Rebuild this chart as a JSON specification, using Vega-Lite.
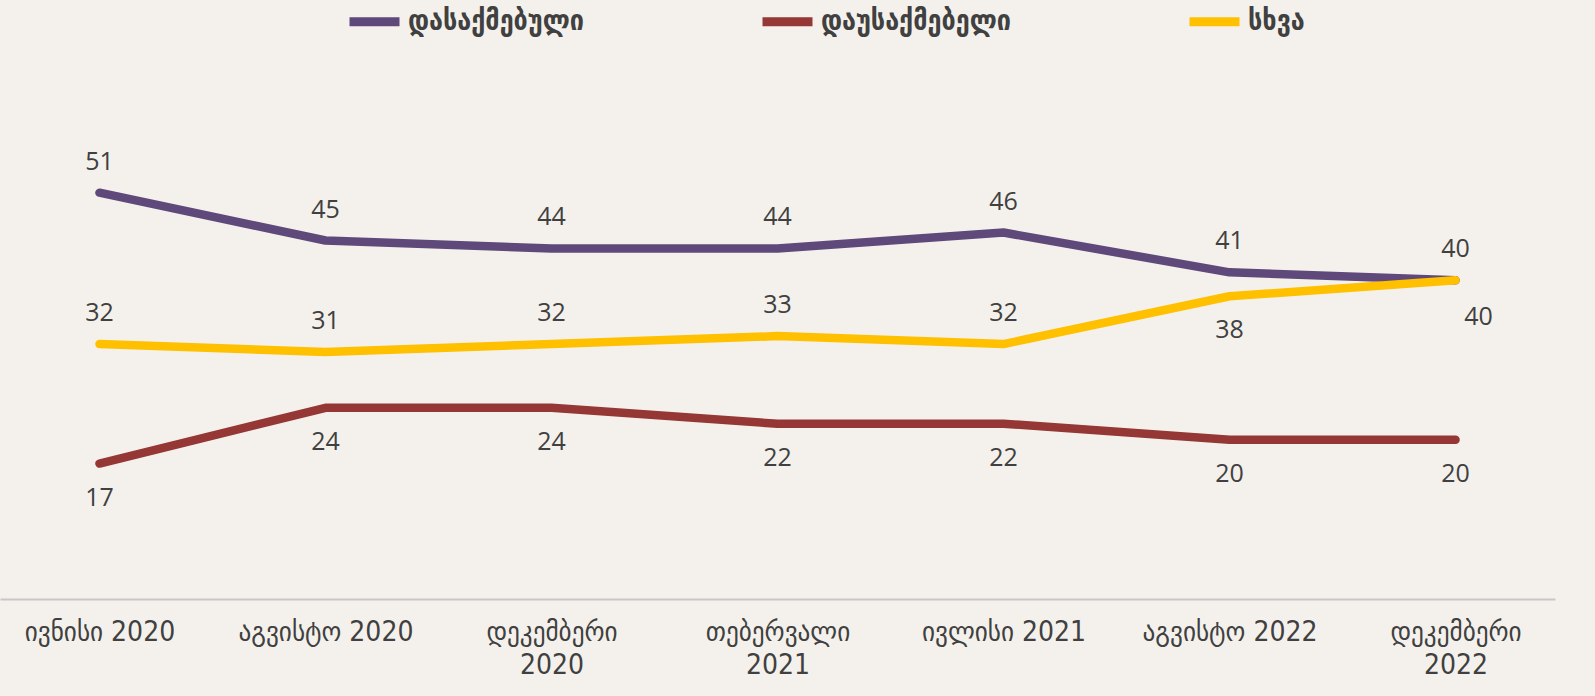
{
  "$schema": "https://vega.github.io/schema/vega-lite/v6.json",
  "autosize": {"type": "none"},
  "width": 1555,
  "height": 478,
  "padding": {"top": 121, "left": 0, "right": 40, "bottom": 97},
  "background": "#F4F1EC",
  "config": {"view": {"stroke": null}, "font": "DejaVu Sans Condensed"},
  "data": {"values": [
    {"month": "ივნისი 2020", "series": "დასაქმებული", "value": 51},
    {"month": "აგვისტო 2020", "series": "დასაქმებული", "value": 45},
    {"month": "დეკემბერი 2020", "series": "დასაქმებული", "value": 44},
    {"month": "თებერვალი 2021", "series": "დასაქმებული", "value": 44},
    {"month": "ივლისი 2021", "series": "დასაქმებული", "value": 46},
    {"month": "აგვისტო 2022", "series": "დასაქმებული", "value": 41},
    {"month": "დეკემბერი 2022", "series": "დასაქმებული", "value": 40},
    {"month": "ივნისი 2020", "series": "დაუსაქმებელი", "value": 17},
    {"month": "აგვისტო 2020", "series": "დაუსაქმებელი", "value": 24},
    {"month": "დეკემბერი 2020", "series": "დაუსაქმებელი", "value": 24},
    {"month": "თებერვალი 2021", "series": "დაუსაქმებელი", "value": 22},
    {"month": "ივლისი 2021", "series": "დაუსაქმებელი", "value": 22},
    {"month": "აგვისტო 2022", "series": "დაუსაქმებელი", "value": 20},
    {"month": "დეკემბერი 2022", "series": "დაუსაქმებელი", "value": 20},
    {"month": "ივნისი 2020", "series": "სხვა", "value": 32},
    {"month": "აგვისტო 2020", "series": "სხვა", "value": 31},
    {"month": "დეკემბერი 2020", "series": "სხვა", "value": 32},
    {"month": "თებერვალი 2021", "series": "სხვა", "value": 33},
    {"month": "ივლისი 2021", "series": "სხვა", "value": 32},
    {"month": "აგვისტო 2022", "series": "სხვა", "value": 38},
    {"month": "დეკემბერი 2022", "series": "სხვა", "value": 40}
  ]},
  "encoding": {
    "x": {
      "field": "month", "type": "ordinal", "sort": null,
      "scale": {"type": "point", "padding": 0.44},
      "axis": {
        "title": null, "labelAngle": 0, "domainColor": "#C8C8C8", "domainWidth": 2,
        "ticks": false, "grid": false, "labelFontSize": 28, "labelColor": "#404040",
        "labelPadding": 19, "labelLineHeight": 33, "labelBaseline": "top", "labelLimit": 0,
        "labelExpr": "length(datum.value) > 12 ? split(datum.value, ' ') : datum.value"
      }
    },
    "y": {
      "field": "value", "type": "quantitative",
      "scale": {"domain": [0, 60], "nice": false, "zero": true},
      "axis": null
    }
  },
  "layer": [
    {
      "mark": {"type": "line", "strokeWidth": 8.5, "strokeCap": "round", "strokeJoin": "round"},
      "encoding": {
        "color": {
          "field": "series", "type": "nominal",
          "sort": ["დასაქმებული", "დაუსაქმებელი", "სხვა"],
          "scale": {"domain": ["დასაქმებული", "დაუსაქმებელი", "სხვა"], "range": ["#5F497A", "#953735", "#FFC000"]},
          "legend": {
            "title": null, "orient": "none", "legendX": 345, "legendY": -129,
            "direction": "horizontal", "symbolType": "stroke", "symbolSize": 2500,
            "symbolStrokeWidth": 9, "labelFontSize": 28, "labelColor": "#404040",
            "columnPadding": 160, "labelOffset": 4, "labelFontWeight": "bold", "labelLimit": 0
          }
        },
        "order": {"field": "series"}
      }
    },
    {
      "transform": [{"filter": "datum.series == 'დასაქმებული' || (datum.series == 'სხვა' && datum.month != 'აგვისტო 2022' && datum.month != 'დეკემბერი 2022')"}],
      "mark": {"type": "text", "dy": -31, "fontSize": 25, "font": "Open Sans", "color": "#404040"},
      "encoding": {"text": {"field": "value", "type": "quantitative"}}
    },
    {
      "transform": [{"filter": "datum.series == 'დაუსაქმებელი' || (datum.series == 'სხვა' && datum.month == 'აგვისტო 2022')"}],
      "mark": {"type": "text", "dy": 34, "fontSize": 25, "font": "Open Sans", "color": "#404040"},
      "encoding": {"text": {"field": "value", "type": "quantitative"}}
    },
    {
      "transform": [{"filter": "datum.series == 'სხვა' && datum.month == 'დეკემბერი 2022'"}],
      "mark": {"type": "text", "dy": 37, "dx": 23, "fontSize": 25, "font": "Open Sans", "color": "#404040"},
      "encoding": {"text": {"field": "value", "type": "quantitative"}}
    }
  ]
}
